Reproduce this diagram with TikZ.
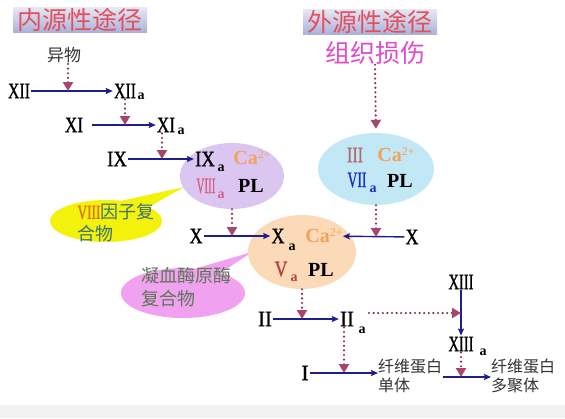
\documentclass[tikz,border=0pt]{standalone}
\usepackage{fontspec}
\usepackage{graphicx}
\setmainfont{Liberation Serif}
\newfontfamily\cjk{Noto Sans CJK SC}
\newfontfamily\rnf[FakeBold=1.2]{Liberation Serif}
\usetikzlibrary{arrows.meta,shapes.geometric,calc}
\definecolor{navy}{HTML}{1E1E8C}
\definecolor{dotc}{HTML}{8E2A5C}
\definecolor{tipc}{HTML}{A8446E}
\definecolor{titlec}{HTML}{E2505E}
\definecolor{magc}{HTML}{E04ACB}
\definecolor{cac}{HTML}{F2A25A}
\definecolor{lavc}{HTML}{DBC6F2}
\definecolor{bluec}{HTML}{C2E8F6}
\definecolor{peachc}{HTML}{FBDAB8}
\definecolor{yellc}{HTML}{F2F20A}
\definecolor{pinkc}{HTML}{F0A2F0}
\definecolor{viiic}{HTML}{D8607E}
\definecolor{vc}{HTML}{B8403A}
\definecolor{iiic}{HTML}{B06868}
\definecolor{viic}{HTML}{1A2ECC}
\definecolor{orgc}{HTML}{E0701A}
\definecolor{tealc}{HTML}{3F7270}
\definecolor{olivec}{HTML}{5E7656}
\definecolor{textc}{HTML}{333333}
\definecolor{boxtop}{HTML}{E6E7F4}
\definecolor{boxbot}{HTML}{A9B1D8}
\newcommand\rn[2][0.8]{\scalebox{#1}[1]{#2}}
\newcommand\captwo{Ca{\fontsize{12}{12}\selectfont\mdseries\raisebox{6pt}{2+}}}
\begin{document}
\begin{tikzpicture}[x=1pt,y=-1pt,
  rn/.style={inner sep=1pt, font=\rnf\fontsize{22}{22}\selectfont},
  sub/.style={inner sep=0pt, font=\fontsize{14}{14}\selectfont\bfseries},
  ca/.style={inner sep=0pt, text=cac, font=\fontsize{20}{20}\selectfont\bfseries},
  pl/.style={inner sep=0pt, font=\fontsize{20}{20}\selectfont\bfseries},
  flow/.style={navy, line width=1.4pt, -{Stealth[length=7pt,width=6pt,inset=1pt]}},
  act/.style={dotc, line width=2.4pt, line cap=round, dash pattern=on 0pt off 4.6pt, -{Triangle[length=9pt,width=10pt,color=tipc]}},
  cn/.style={font=\cjk\fontsize{16}{19}\selectfont, align=left, inner sep=0pt, text=textc},
  blob/.style={ellipse, inner sep=0pt},
  title/.style={inner sep=0pt, minimum width=134pt, minimum height=25pt, top color=boxtop, bottom color=boxbot, text=titlec, font=\cjk\fontsize{25}{25}\selectfont}]
\useasboundingbox (0,0) rectangle (565,418);
\fill[white] (0,0) rectangle (565,418);
\fill[black!5] (0,405) rectangle (565,418);

% titles
\node[title] (t1) at (80,20) {内源性途径};
\node[title] (t2) at (370,22) {外源性途径};
\node[inner sep=0pt, text=magc, font=\cjk\fontsize{25}{25}\selectfont] (ext) at (375,53) {组织损伤};
\node[inner sep=1pt, text=textc, font=\cjk\fontsize{17}{17}\selectfont] (yw) at (64,55) {异物};

% callouts
\node[blob, fill=yellc, minimum width=112pt, minimum height=42pt] (cy) at (106,221) {};
\coordinate (cytip) at (184,187);
\fill[yellc] (cy.52) -- (cytip) -- (cy.18) -- cycle;
\node[blob, fill=pinkc, minimum width=124pt, minimum height=50pt] (cp) at (183,293) {};
\coordinate (cptip) at (252,252);
\fill[pinkc] (cp.62) -- (cptip) -- (cp.28) -- cycle;
\node[cn, text=tealc, font=\cjk\fontsize{18}{22}\selectfont] (cyx) at (116,223) {{\rnf\fontsize{20}{22}\selectfont\color{orgc}\rn[0.67]{VIII}}因子复\\合物};
\node[cn, text=olivec, font=\cjk\fontsize{18}{23}\selectfont] (cpx) at (186,287) {凝血酶原酶\\复合物};

% ellipses
\node[blob, fill=lavc, minimum width=104pt, minimum height=66pt] (pe) at (232,176) {};
\node[blob, fill=bluec, minimum width=116pt, minimum height=72pt] (be) at (376,169) {};
\node[blob, fill=peachc, minimum width=108pt, minimum height=74pt] (oe) at (302,252) {};

% intrinsic cascade
\node[rn] (xii) at (19,91) {\rn[0.72]{XII}};
\node[rn] (xiia) at (125,91) {\rn[0.72]{XII}};
\node[sub] (xiias) at (141,96) {a};
\node[rn] (xi) at (74,125) {\rn[0.78]{XI}};
\node[rn] (xia) at (166,125) {\rn[0.78]{XI}};
\node[sub] (xias) at (181,131) {a};
\node[rn] (ix) at (117,159) {\rn[0.85]{IX}};
\node[rn] (ixa) at (205,159) {\rn[0.85]{IX}};
\node[sub] (ixas) at (221,168) {a};
\node[ca] (ca1) at (252,158) {\captwo};
\node[rn, text=viiic] (viiia) at (206,186) {\rn[0.5]{VIII}};
\node[sub, text=viiic] (viiias) at (221,195) {a};
\node[pl] (pl1) at (251,186) {PL};

% extrinsic
\node[rn, text=iiic] (iii) at (355,155) {\rn[0.73]{III}};
\node[ca] (ca2) at (396,155) {\captwo};
\node[rn, text=viic] (viia) at (357,180) {\rn[0.62]{VII}};
\node[sub, text=viic] (viias) at (373,189) {a};
\node[pl] (pl2) at (400,181) {PL};

% common
\node[rn] (x1) at (196,236) {\rn[0.82]{X}};
\node[rn] (xa) at (278,236) {\rn[0.82]{X}};
\node[sub] (xas) at (292,247) {a};
\node[ca] (ca3) at (324,236) {\captwo};
\node[rn] (x2) at (412,237) {\rn[0.82]{X}};
\node[rn, text=vc] (va) at (281,269) {\rn[0.82]{V}};
\node[sub, text=vc] (vas) at (294,278) {a};
\node[pl] (pl3) at (321,270) {PL};

\node[rn] (ii) at (265,319) {\rn[0.95]{II}};
\node[rn] (iia) at (347,319) {\rn[0.95]{II}};
\node[sub] (iias) at (362,330) {a};
\node[rn] (i) at (305,373) {\rn[1]{I}};
\node[cn, anchor=west] (f1) at (378,376) {纤维蛋白\\单体};
\node[rn] (xiii) at (461,282) {\rn[0.66]{XIII}};
\node[rn] (xiiia) at (461,344) {\rn[0.66]{XIII}};
\node[sub] (xiiias) at (483,352) {a};
\node[cn, anchor=west] (f2) at (491,376) {纤维蛋白\\多聚体};

% solid flow arrows
\draw[flow] (xii) -- (xiia);
\draw[flow, shorten <=8pt] (xi) -- (xia);
\draw[flow] (ix) -- (ixa);
\draw[flow] (x1) -- (xa);
\draw[flow] (x2) -- (ca3);
\draw[flow] (ii) -- (iia);
\draw[flow] (i) -- (i -| f1.west);
\draw[flow] (xiii) -- (xiiia);
\coordinate (p0) at (443,377);
\draw[flow] (p0) -- (p0 -| f2.west);

% activation (dotted) arrows
\coordinate (m1) at (68,91);
\draw[act] (m1 |- yw.south) -- (m1);
\draw[act] (xiia.south) -- (xiia.south |- xi.center);
\draw[act] ([xshift=-4pt]xia.south) -- ([xshift=-4pt]xia.south |- ix.center);
\draw[act] (pe.south) -- (pe.south |- x1.center);
\draw[act, shorten >=4pt] (ext.south) -- (be.north);
\draw[act] (be.south) -- (be.south |- x2.center);
\draw[act] (oe.south) -- (oe.south |- ii.center);
\draw[act] ([xshift=-3pt]iia.south) -- ([xshift=-3pt]iia.south |- i.center);
\coordinate (h1) at (369,313);
\draw[act] (h1) -- (h1 -| xiii.center);
\draw[act] (xiiia.south) -- (xiiia.south |- p0);
\end{tikzpicture}
\end{document}
